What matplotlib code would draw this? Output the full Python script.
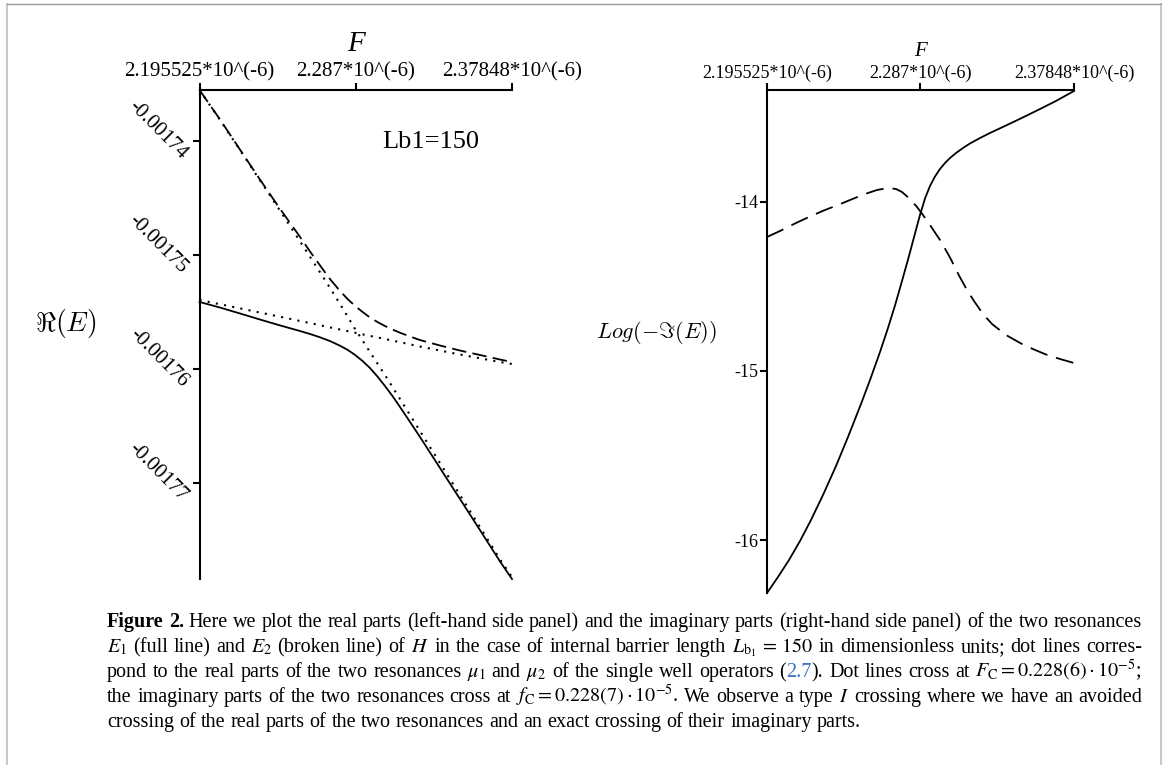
import matplotlib
matplotlib.use('Agg')
import matplotlib.pyplot as plt
from matplotlib.transforms import ScaledTranslation
from matplotlib.lines import Line2D

plt.rcParams['font.family'] = ['Liberation Serif', 'DejaVu Serif']
plt.rcParams['mathtext.fontset'] = 'stix'

# ---------------- data (F in units of 1e-6) ----------------
F_left = [2.195525, 2.2075, 2.2192, 2.2309, 2.2427, 2.2544, 2.2602, 2.2661, 2.2719, 2.2778,
          2.2822, 2.2866, 2.2910, 2.2953, 2.2997, 2.3041, 2.3085, 2.3129, 2.3188, 2.3246,
          2.3363, 2.3480, 2.3597, 2.3715, 2.37848]
re_E1 = [-0.00175412, -0.00175461, -0.00175513, -0.00175566, -0.00175618, -0.00175667,
         -0.00175693, -0.00175722, -0.00175755, -0.00175796, -0.00175832, -0.00175877,
         -0.00175930, -0.00175991, -0.00176066, -0.00176149, -0.00176237, -0.00176333,
         -0.00176465, -0.00176596, -0.00176868, -0.00177140, -0.00177412, -0.00177689,
         -0.00177842]
re_E2 = [-0.00173553, -0.00173811, -0.00174075, -0.00174338, -0.00174596, -0.00174842,
         -0.00174969, -0.00175092, -0.00175211, -0.00175316, -0.00175386, -0.00175447,
         -0.00175500, -0.00175548, -0.00175588, -0.00175623, -0.00175654, -0.00175682,
         -0.00175715, -0.00175746, -0.00175794, -0.00175838, -0.00175877, -0.00175917,
         -0.00175939]
re_mu1 = [-0.00175395, -0.00175432, -0.00175468, -0.00175505, -0.00175542, -0.00175579,
          -0.00175597, -0.00175616, -0.00175635, -0.00175654, -0.00175668, -0.00175682,
          -0.00175696, -0.00175710, -0.00175723, -0.00175737, -0.00175751, -0.00175765,
          -0.00175784, -0.00175803, -0.00175838, -0.00175873, -0.00175906, -0.00175939,
          -0.00175956]
re_mu2 = [-0.00173553, -0.00173815, -0.00174079, -0.00174345, -0.00174612, -0.00174881,
          -0.00175016, -0.00175152, -0.00175288, -0.00175430, -0.00175539, -0.00175649,
          -0.00175750, -0.00175851, -0.00175952, -0.00176053, -0.00176158, -0.00176263,
          -0.00176404, -0.00176544, -0.00176825, -0.00177105, -0.00177386, -0.00177671,
          -0.00177825]

F_im_E1 = [2.195525, 2.20208, 2.20864, 2.21519, 2.22175, 2.22890, 2.23665, 2.24380, 2.25154,
           2.25691, 2.26287, 2.26763, 2.27180, 2.27598, 2.28015, 2.28372, 2.28670, 2.28968,
           2.29266, 2.29564, 2.29862, 2.30161, 2.30459, 2.30816, 2.31233, 2.31650, 2.32246,
           2.32842, 2.33438, 2.34511, 2.35584, 2.36716, 2.37848]
log_im_E1 = [-16.3136, -16.2189, -16.1183, -16.0059, -15.8817, -15.7337, -15.5621, -15.3905,
             -15.1953, -15.0533, -14.8876, -14.7456, -14.6124, -14.4675, -14.3195, -14.1864,
             -14.0769, -13.9793, -13.9053, -13.8491, -13.8047, -13.7692, -13.7396, -13.7101,
             -13.6805, -13.6538, -13.6213, -13.5917, -13.5639, -13.5136, -13.4615, -13.4053,
             -13.3432]
F_im_E2 = [2.195525, 2.20327, 2.21281, 2.22115, 2.23009, 2.23784, 2.24499, 2.25393, 2.26108,
           2.26763, 2.27240, 2.27598, 2.28075, 2.28492, 2.28849, 2.29266, 2.29922, 2.30458,
           2.30995, 2.31471, 2.31889, 2.32425, 2.32961, 2.33796, 2.34690, 2.35464, 2.36180,
           2.37014, 2.37848]
log_im_E2 = [-14.2071, -14.1716, -14.1243, -14.0858, -14.0473, -14.0178, -13.9882, -13.9527,
             -13.9290, -13.9172, -13.9231, -13.9408, -13.9822, -14.0296, -14.0769, -14.1361,
             -14.2337, -14.3284, -14.4349, -14.5207, -14.5858, -14.6627, -14.7219, -14.7870,
             -14.8373, -14.8728, -14.9024, -14.9290, -14.9527]

x_ticks = [2.195525, 2.287, 2.37848]
x_tick_labels = ['2.195525*10^(-6)', '2.287*10^(-6)', '2.37848*10^(-6)']
re_ticks = [-0.00177, -0.00176, -0.00175, -0.00174]
re_tick_labels = ['-0.00177', '-0.00176', '-0.00175', '-0.00174']
im_ticks = [-16, -15, -14]
im_tick_labels = ['-16', '-15', '-14']
annotation = 'Lb1=150'

caption_lines = [
    [("Figure 2.", 'bold'), (" Here we plot the real parts (left-hand side panel) and the imaginary parts (right-hand side panel) of the two resonances", 'normal')],
    [(r"$E_1$ (full line) and $E_2$ (broken line) of $H$ in the case of internal barrier length $L_{\mathrm{b}_1}\,=\,150$ in dimensionless units; dot lines corres-", 'normal')],
    [(r"pond to the real parts of the two resonances $\mu_1$ and $\mu_2$ of the single well operators (", 'normal'), ("2.7", 'blue'), (r"). Dot lines cross at $F_{\mathrm{C}}=0.228(6)\cdot 10^{-5}$;", 'normal')],
    [(r"the imaginary parts of the two resonances cross at $f_{\mathrm{C}}=0.228(7)\cdot 10^{-5}$. We observe a type $I$ crossing where we have an avoided", 'normal')],
    [("crossing of the real parts of the two resonances and an exact crossing of their imaginary parts.", 'normal')],
]

# ---------------- figure ----------------
W, H = 1167, 765
fig = plt.figure(figsize=(W / 100, H / 100), dpi=100)
fig.patch.set_facecolor('white')


def px_axes(x0, y0, x1, y1):
    return fig.add_axes([x0 / W, 1 - y1 / H, (x1 - x0) / W, (y1 - y0) / H])


axL = px_axes(199.5, 90, 512, 579)
axR = px_axes(767, 90, 1074, 593)

for ax in (axL, axR):
    ax.patch.set_alpha(0)
    for s in ('bottom', 'right'):
        ax.spines[s].set_visible(False)
    for s in ('top', 'left'):
        ax.spines[s].set_linewidth(1.5)
    ax.xaxis.tick_top()
    ax.xaxis.set_label_position('top')
    ax.set_xlim(2.195525, 2.37848)
    ax.set_xticks(x_ticks)
    ax.set_xticklabels(x_tick_labels)
    ax.tick_params(axis='both', direction='out', length=5, width=1.5, pad=1)

# left panel
axL.set_ylim(-0.00177842, -0.00173553)
axL.plot(F_left, re_E1, color='k', lw=1.3, clip_on=False)
axL.plot(F_left, re_E2, color='k', lw=1.3, dashes=(8, 3.5), clip_on=False)
axL.plot(F_left, re_mu1, color='k', lw=1.5, linestyle=(0, (1, 3)), clip_on=False)
axL.plot(F_left, re_mu2, color='k', lw=1.5, linestyle=(0, (1, 3)), clip_on=False)
axL.set_yticks(re_ticks)
axL.set_yticklabels(re_tick_labels)
axL.tick_params(axis='x', labelsize=15)
axL.tick_params(axis='y', labelsize=15, pad=3)
off = ScaledTranslation(3 / 100, 11 / 100, fig.dpi_scale_trans)
for lab in axL.get_yticklabels():
    lab.set_rotation(-45)
    lab.set_va('center')
    lab.set_transform(lab.get_transform() + off)
axL.set_xlabel('F', fontsize=21, fontstyle='italic', labelpad=8)
axL.set_ylabel(r'$\Re(E)$', fontsize=20, rotation=0, math_fontfamily='cm')
axL.yaxis.set_label_coords(-0.427, 0.489)
axL.text(0.741, 0.894, annotation, transform=axL.transAxes, fontsize=19,
         ha='center', va='center')

# right panel
axR.set_ylim(-16.3136, -13.3373)
axR.plot(F_im_E1, log_im_E1, color='k', lw=1.3, clip_on=False)
axR.plot(F_im_E2, log_im_E2, color='k', lw=1.3, dashes=(10, 5), clip_on=False)
axR.set_yticks(im_ticks)
axR.set_yticklabels(im_tick_labels)
axR.tick_params(axis='both', labelsize=13)
axR.set_xlabel('F', fontsize=15, fontstyle='italic', labelpad=6)
axR.set_ylabel(r'$Log(-\Im(E))$', fontsize=16, rotation=0, math_fontfamily='cm')
axR.yaxis.set_label_coords(-0.362, 0.491)

# frame around figure
fig.add_artist(Line2D([7 / W, 7 / W], [0, 1 - 4 / H], color='#c8c8c8', lw=1.5))
fig.add_artist(Line2D([1161 / W, 1161 / W], [0, 1 - 4 / H], color='#c8c8c8', lw=1.5))
fig.add_artist(Line2D([7 / W, 1161 / W], [1 - 4 / H, 1 - 4 / H], color='#9a9a9a', lw=1.0))

# ---------------- caption ----------------
renderer = fig.canvas.get_renderer()
styles = {'normal': dict(color='k'), 'bold': dict(color='k', fontweight='bold'),
          'blue': dict(color='#3a74c0')}


def build_words(segments):
    words, cur = [], []
    for text, style in segments:
        inmath, buf = False, ''
        for ch in text:
            if ch == '$':
                inmath = not inmath
            if ch == ' ' and not inmath:
                if buf:
                    cur.append((buf, style))
                    buf = ''
                if cur:
                    words.append(cur)
                    cur = []
            else:
                buf += ch
        if buf:
            cur.append((buf, style))
    if cur:
        words.append(cur)
    return words


def measure(s, style, size):
    t = fig.text(0, 0, s, fontsize=size, math_fontfamily='stix', **styles[style])
    w = t.get_window_extent(renderer).width
    t.remove()
    return w


base = 13.0
space_w = measure('a a', 'normal', base) - measure('aa', 'normal', base)
nat = []
for segs in caption_lines[:4]:
    ws = build_words(segs)
    tot = sum(measure(s, st, base) for w in ws for s, st in w) + space_w * (len(ws) - 1)
    nat.append(tot)
size = base * 1035.0 / max(nat)

space_w = measure('a a', 'normal', size) - measure('aa', 'normal', size)
cap_x0, cap_x1 = 107, 1142
baselines = [627, 652, 677, 702, 727]
for i, segs in enumerate(caption_lines):
    ws = build_words(segs)
    widths = [[measure(s, st, size) for s, st in w] for w in ws]
    tot = sum(sum(w) for w in widths)
    if i < 4 and len(ws) > 1:
        gap = (cap_x1 - cap_x0 - tot) / (len(ws) - 1)
    else:
        gap = space_w
    x = cap_x0
    for w, wl in zip(ws, widths):
        for (s, st), sw in zip(w, wl):
            fig.text(x / W, 1 - baselines[i] / H, s, fontsize=size, ha='left', va='baseline',
                     math_fontfamily='stix', **styles[st])
            x += sw
        x += gap

fig.savefig('out.png', dpi=100)
